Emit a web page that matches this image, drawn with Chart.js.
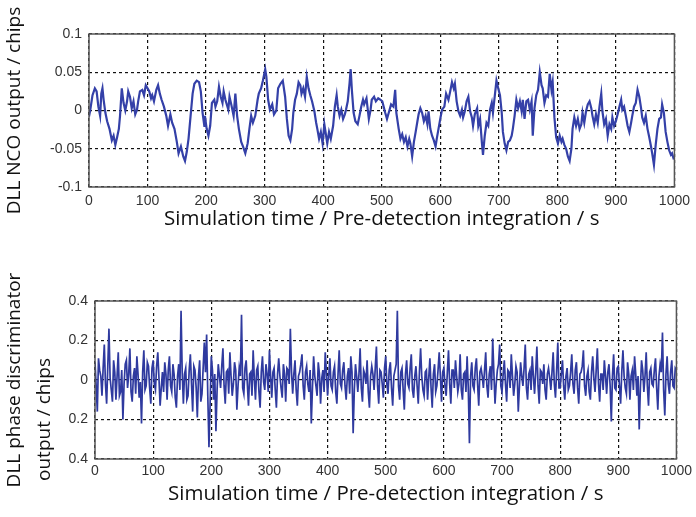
<!DOCTYPE html>
<html>
<head>
<meta charset="utf-8">
<script src="https://cdn.jsdelivr.net/npm/chart.js@4.4.0/dist/chart.umd.min.js"></script>
<style>
  html, body { margin: 0; padding: 0; background: #fff; }
  #wrap { position: relative; width: 696px; height: 517px; overflow: hidden; }
  .panel { position: absolute; left: 0; width: 696px; }
  #top { top: 0; height: 245px; }
  #bottom { top: 255px; height: 262px; }
</style>
</head>
<body>
<div id="wrap">
  <div class="panel" id="top"><canvas id="ncoChart" width="696" height="245"></canvas></div>
  <div class="panel" id="bottom"><canvas id="discChart" width="696" height="262"></canvas></div>
</div>
<script>
// ---- data ----
const xTitle = 'Simulation time / Pre-detection integration / s';
const timeTicks = [0, 100, 200, 300, 400, 500, 600, 700, 800, 900, 1000];
const timeTickLabels = ['0', '100', '200', '300', '400', '500', '600', '700', '800', '900', '1000'];

// top panel: DLL NCO output
const ncoTitle = 'DLL NCO output / chips';
const ncoTicks = [-0.1, -0.05, 0, 0.05, 0.1];
const ncoTickLabels = ['-0.1', '-0.05', '0', '0.05', '0.1'];
const ncoTime = [
  0, 2, 6, 10, 13, 16, 19, 21, 23, 25, 28, 31, 35, 39, 42, 45, 48, 51, 53, 56,
  59, 62, 65, 67, 70, 73, 76, 79, 82, 84, 87, 91, 94, 97, 100, 103, 106, 108, 111, 115,
  118, 121, 124, 128, 132, 135, 139, 142, 146, 150, 153, 157, 161, 164, 167, 170, 174, 177, 180, 184,
  188, 191, 194, 197, 198, 201, 204, 207, 210, 214, 216, 219, 222, 225, 228, 230, 233, 238, 240, 243,
  247, 250, 253, 256, 260, 263, 267, 271, 274, 277, 280, 284, 288, 290, 294, 297, 301, 303, 306, 309,
  313, 316, 320, 323,
  327, 331, 335, 338, 341, 344, 347, 349, 352, 355, 358, 361, 363, 366, 369, 372, 375, 378, 381, 385,
  388, 390, 393, 396, 399, 402, 405, 407, 410, 413, 417, 420, 423, 425, 428, 431, 434, 437, 439, 442,
  445, 447, 449, 452, 455, 459, 462, 465, 468, 470, 474, 478, 481, 483, 487, 490, 494, 498, 501, 506,
  509, 512, 516, 520, 523, 525, 529, 532, 535, 538, 541, 544, 547, 549, 552, 555, 558, 561, 563, 566,
  569, 572, 575, 578, 580, 583, 586, 589, 592, 594, 597, 600, 603, 607, 610, 614, 617, 620, 623, 625,
  628, 631, 634, 637, 639, 642, 645, 648, 651, 654, 656, 659, 663,
  665, 668, 671, 673, 676, 679, 682, 685, 688, 690, 693, 696, 699, 702, 705, 707, 710, 713, 716, 719,
  722, 724, 727, 730, 733, 736, 739, 741, 744, 747, 750, 753, 756, 758, 761, 764, 767, 770, 773, 775,
  778, 781, 784, 787, 790, 792, 795, 798, 801, 804, 807, 809, 812, 815, 818, 821, 824, 826, 829, 832,
  835, 838, 841, 843, 846, 849, 852, 855, 858, 860, 863, 866, 869, 872, 875, 877, 880, 883, 886, 889,
  892, 894, 897, 900, 903, 906, 909, 911, 914, 917, 920, 923, 926, 928, 931, 934, 937, 940, 943, 945,
  948, 951, 954, 957, 960, 962, 965, 968, 971, 974, 977, 979, 982, 985, 988, 991, 994, 996, 999
];
const ncoValue = [
  -0.008, 0.0, 0.02, 0.029, 0.025, 0.005, -0.007, 0.022, 0.029, 0.014, -0.003, -0.014, -0.024, -0.039, -0.033, -0.045, -0.035, -0.024, -0.007, 0.029,
  0.01, 0.0, 0.012, 0.025, 0.018, 0.003, 0.012, -0.005, 0.001, 0.012, 0.025, 0.027, 0.02, 0.033, 0.029, 0.025, 0.016, 0.02, 0.012, 0.027,
  0.033, 0.022, 0.014, 0.005, -0.007, -0.02, -0.005, -0.016, -0.024, -0.041, -0.056, -0.047, -0.06, -0.066, -0.054, -0.037, -0.003, 0.022, 0.035, 0.039,
  0.037, 0.025, -0.003, -0.02, -0.007, -0.024, -0.033, -0.02, 0.01, 0.014, 0.005, 0.012, 0.031, 0.018, 0.01, 0.025, 0.014, 0.001, 0.018, 0.008,
  -0.007, 0.022, -0.007, -0.024, -0.041, -0.047, -0.056, -0.043, -0.024, -0.007, -0.016, -0.007, 0.014, 0.022, 0.029, 0.039, 0.054, 0.044, 0.014, 0.001,
  0.008, -0.005, 0.0, 0.029,
  0.035, 0.039, 0.018, -0.011, -0.033, -0.039, -0.024, -0.003, 0.014, 0.022, 0.037, 0.033, 0.022, 0.029, 0.018, 0.044, 0.029, 0.02, 0.012, -0.001,
  -0.016, -0.024, -0.037, -0.028, -0.043, -0.018, -0.033, -0.043, -0.028, -0.037, -0.02, 0.005, 0.02, 0.005, -0.007, 0.001, -0.011, -0.005, 0.001, 0.012,
  0.035, 0.054, 0.027, -0.003, -0.014, -0.018, -0.007, 0.005, 0.014, 0.008, 0.016, -0.011, 0.001, 0.014, 0.018, 0.012, 0.016, 0.014, 0.012, -0.003,
  -0.011, -0.003, 0.008, 0.005, 0.027, -0.003, -0.024, -0.037, -0.031, -0.041, -0.035, -0.047, -0.037, -0.043, -0.06, -0.041, -0.028, -0.014, -0.005, 0.003,
  -0.003, -0.014, -0.007, -0.018, -0.001, -0.024, -0.033, -0.039, -0.047, -0.037, -0.024, -0.011, 0.001, 0.005, 0.022, 0.014, 0.025, 0.037, 0.029, 0.035,
  0.012, -0.001, -0.007, 0.001, -0.009, -0.001, 0.012, 0.018, -0.001, -0.009, -0.02, -0.005, 0.003,
  -0.02, -0.011, -0.041, -0.058, -0.033, -0.016, -0.02, 0.001, 0.01, -0.003, 0.018, 0.039, 0.029, 0.02, -0.003, -0.028, -0.043, -0.052, -0.041, -0.039,
  -0.033, -0.024, -0.007, 0.014, 0.003, 0.012, -0.001, 0.014, -0.011, 0.012, 0.014, 0.001, 0.012, -0.033, 0.003, 0.02, 0.027, 0.05, 0.033, 0.029,
  0.01, 0.02, 0.018, 0.048, 0.027, 0.037, -0.009, -0.035, -0.043, -0.033, -0.041, -0.037, -0.045, -0.05, -0.06, -0.066, -0.05, -0.024, -0.009, -0.02,
  -0.011, -0.024, -0.018, -0.003, -0.016, -0.001, 0.008, 0.012, 0.003, -0.007, -0.018, -0.005, -0.016, 0.005, 0.022, -0.001, -0.018, -0.011, -0.033, -0.018,
  -0.024, -0.009, -0.02, -0.014, -0.005, 0.005, 0.014, 0.001, 0.005, -0.007, -0.02, -0.028, -0.016, -0.007, 0.005, 0.01, 0.027, 0.018, 0.003, -0.009,
  -0.016, -0.007, -0.024, -0.035, -0.047, -0.056, -0.071, -0.045, -0.024, -0.011, -0.009, 0.008, -0.003, -0.028, -0.041, -0.052, -0.058, -0.056, -0.064
];

// bottom panel: DLL phase discriminator output, one value every 2 s
// (the second title line keeps trailing spaces so it sits lower, as in the figure)
const discTitle = ['DLL phase discriminator', 'output / chips                '];
const discTicks = [-0.4, -0.2, 0, 0.2, 0.4];
const discTickLabels = ['0.4', '0.2', '0', '0.2', '0.4'];
const discStep = 2;
const discValue = [
  // 0 - 98
  0.09, -0.03, -0.16, 0.11, 0.05, 0.02, -0.08, 0.06, 0.18, -0.02, -0.12, 0.07, 0.26, 0.01, -0.05, -0.11, 0.1, 0.04, -0.1, 0.02,
  0.14, -0.08, -0.06, 0.05, -0.2, -0.02, 0.08, 0.1, -0.04, 0.03, 0.16, -0.06, -0.11, 0.02, 0.06, -0.07, 0.12, 0.03, -0.09, -0.01,
  -0.22, 0.04, 0.15, -0.05, -0.03, 0.09, 0.07, -0.04, -0.12, 0.06,
  // 100 - 198
  0.1, -0.02, -0.05, 0.07, 0.14, 0.01, -0.13, -0.04, 0.04, -0.06, 0.09, 0.03, -0.1, 0.05, 0.12, -0.03, -0.06, 0.08, 0.03, -0.09,
  -0.14, 0.02, 0.08, -0.05, 0.35, 0.04, -0.12, 0.03, 0.06, -0.1, -0.08, 0.05, 0.13, -0.02, -0.16, 0.07, 0.05, -0.04, -0.19, 0.02,
  0.1, -0.11, -0.07, 0.06, 0.19, 0.04, 0.23, -0.08, -0.34, -0.12,
  // 200 - 298
  0.12, 0.05, -0.1, 0.03, -0.26, -0.05, 0.08, 0.02, -0.04, 0.07, 0.16, -0.03, -0.12, 0.04, 0.05, -0.07, 0.14, 0.02, -0.08, -0.02,
  0.09, 0.05, -0.15, -0.03, 0.06, 0.02, 0.33, -0.04, -0.07, 0.06, 0.1, -0.02, -0.13, 0.03, 0.04, -0.08, 0.15, 0.01, -0.1, 0.05,
  0.07, -0.06, -0.14, 0.04, 0.12, -0.01, -0.05, 0.08, 0.03, -0.06,
  // 300 - 398
  0.15, 0.02, -0.09, 0.04, 0.06, -0.05, -0.14, 0.03, 0.11, 0.02, -0.04, -0.09, 0.08, 0.03, -0.11, 0.06, 0.05, -0.02, 0.26, 0.04,
  -0.07, 0.03, 0.1, -0.05, -0.13, 0.02, 0.04, 0.08, 0.13, -0.03, -0.1, 0.04, 0.07, -0.02, -0.06, 0.05, -0.22, -0.04, 0.12, 0.02,
  -0.03, -0.08, 0.09, 0.03, -0.12, 0.01, 0.05, -0.06, 0.14, 0.04,
  // 400 - 498
  -0.08, 0.02, 0.11, -0.03, -0.05, 0.04, 0.07, -0.06, -0.12, 0.03, 0.15, -0.02, -0.04, 0.05, 0.09, -0.03, -0.1, 0.02, 0.06, -0.07,
  0.12, 0.04, -0.27, -0.05, 0.08, 0.02, -0.06, 0.03, 0.16, -0.04, -0.11, 0.05, 0.03, -0.02, 0.1, -0.06, -0.14, 0.02, 0.07, 0.03,
  -0.05, 0.06, 0.17, -0.03, -0.12, 0.05, 0.04, -0.02, -0.09, 0.06,
  // 500 - 598
  0.12, -0.02, -0.07, 0.05, 0.09, -0.04, -0.13, 0.02, 0.05, 0.08, 0.35, -0.03, -0.1, 0.04, 0.06, -0.05, -0.15, 0.03, 0.1, -0.02,
  -0.04, 0.06, 0.13, -0.05, -0.09, 0.02, 0.07, -0.03, -0.12, 0.04, 0.16, 0.02, -0.05, -0.08, 0.04, 0.05, -0.1, 0.01, 0.11, -0.04,
  -0.14, 0.03, 0.08, -0.06, -0.03, 0.05, 0.14, 0.02, -0.11, 0.04,
  // 600 - 698
  0.06, -0.03, -0.08, 0.04, 0.15, -0.02, -0.12, 0.05, 0.05, -0.04, 0.1, 0.02, -0.06, -0.02, 0.13, -0.05, -0.1, 0.03, 0.04, -0.06,
  0.12, -0.04, -0.32, 0.02, 0.09, -0.03, -0.05, 0.06, 0.11, -0.02, -0.13, 0.04, 0.06, 0.02, -0.04, 0.05, 0.14, -0.03, -0.09, 0.03,
  0.07, -0.05, 0.21, 0.04, -0.12, -0.02, 0.05, 0.08, 0.18, -0.03,
  // 700 - 798
  -0.06, 0.03, 0.1, -0.02, -0.11, 0.05, 0.04, -0.04, 0.13, 0.02, -0.08, -0.02, 0.07, 0.04, -0.16, -0.03, 0.09, 0.02, -0.03, 0.06,
  0.18, -0.04, -0.1, 0.03, 0.05, -0.05, 0.12, 0.02, -0.07, 0.04, 0.17, -0.03, -0.12, 0.05, 0.04, -0.02, 0.08, -0.05, -0.1, 0.03,
  0.06, 0.01, -0.05, 0.04, 0.14, -0.02, -0.09, 0.05, 0.19, -0.04,
  // 800 - 898
  -0.04, 0.03, 0.1, -0.03, -0.1, 0.02, 0.06, -0.05, -0.03, 0.04, 0.13, -0.02, -0.07, 0.05, 0.09, -0.04, -0.12, 0.03, 0.04, 0.07,
  0.15, -0.03, -0.08, 0.02, 0.05, -0.06, -0.1, 0.04, 0.12, 0.01, -0.06, 0.05, 0.16, -0.02, -0.11, 0.03, 0.03, -0.05, 0.1, 0.02,
  -0.07, 0.04, 0.08, -0.03, -0.21, 0.02, 0.13, -0.04, -0.05, 0.06,
  // 900 - 1000
  0.07, -0.03, -0.12, 0.04, 0.15, 0.02, -0.04, -0.07, 0.09, 0.03, -0.1, 0.02, 0.05, -0.05, 0.12, 0.03, -0.08, 0.02, -0.25, -0.04,
  0.1, 0.05, -0.06, 0.02, 0.14, -0.03, -0.13, 0.04, 0.06, -0.02, -0.03, 0.05, 0.11, -0.04, -0.15, 0.02, 0.08, 0.04, 0.24, -0.05,
  -0.18, 0.03, 0.12, -0.02, -0.07, 0.04, 0.1, -0.03, -0.04, 0.06, 0.05
];

// ---- styling ----
const lineColor = '#3440a8';
const gridColor = '#111';
const tickFont = { family: '"Liberation Sans", Arial, sans-serif', size: 14 };
const xTitleFont = { family: '"Open Sans", sans-serif', size: 20.5 };

const framePlugin = {
  id: 'frame',
  afterDatasetsDraw(chart) {
    const { ctx, chartArea: a } = chart;
    ctx.save();
    ctx.strokeStyle = '#555';
    ctx.lineWidth = 1.5;
    ctx.strokeRect(a.left, a.top, a.right - a.left, a.bottom - a.top);
    ctx.restore();
  }
};

function timeAxis(tickPad, titlePad) {
  return {
    type: 'linear',
    min: 0,
    max: 1000,
    afterBuildTicks: s => { s.ticks = timeTicks.map(v => ({ value: v })); },
    afterFit: s => { s.height = 58; },
    ticks: {
      autoSkip: false,
      maxRotation: 0,
      padding: tickPad,
      color: '#333',
      font: tickFont,
      callback: (v, i) => timeTickLabels[i]
    },
    grid: { color: gridColor, lineWidth: 1.2, drawTicks: false },
    border: { display: false, dash: [3, 3] },
    title: {
      display: true,
      text: xTitle,
      color: '#111',
      font: xTitleFont,
      padding: { top: 0, bottom: titlePad }
    }
  };
}

function valueAxis(ticks, labels, title, width, font, titlePad) {
  return {
    type: 'linear',
    min: ticks[0],
    max: ticks[ticks.length - 1],
    afterBuildTicks: s => { s.ticks = ticks.map(v => ({ value: v })); },
    afterFit: s => { s.width = width; },
    ticks: {
      padding: 7,
      color: '#333',
      font: tickFont,
      callback: (v, i) => labels[i]
    },
    grid: { color: gridColor, lineWidth: 1.2, drawTicks: false },
    border: { display: false, dash: [3, 3] },
    title: {
      display: true,
      text: title,
      color: '#111',
      font: font,
      padding: { top: titlePad, bottom: 0 }
    }
  };
}

function makeChart(id, points, width, color, yAxis, xAxis, padding) {
  return new Chart(document.getElementById(id), {
    type: 'line',
    data: {
      datasets: [{
        data: points,
        borderColor: color,
        borderWidth: width,
        pointRadius: 0,
        tension: 0,
        fill: false
      }]
    },
    options: {
      responsive: false,
      animation: false,
      events: [],
      layout: { padding: padding },
      scales: { x: xAxis, y: yAxis },
      plugins: { legend: { display: false }, tooltip: { enabled: false } }
    },
    plugins: [framePlugin]
  });
}

const ncoPoints = ncoTime.map((t, i) => ({ x: t, y: ncoValue[i] }));
const discPoints = discValue.map((v, i) => ({ x: i * discStep, y: v }));

makeChart('ncoChart', ncoPoints, 2.2, lineColor,
  valueAxis(ncoTicks, ncoTickLabels, ncoTitle, 89,
    { family: '"Open Sans", sans-serif', size: 19 }, 3.5),
  timeAxis(6, 14),
  { top: 34, right: 20, left: 0, bottom: 0 });

makeChart('discChart', discPoints, 1.7, '#2f3a9f',
  valueAxis(discTicks, discTickLabels, discTitle, 95,
    { family: '"Open Sans", sans-serif', size: 19, lineHeight: 1.53 }, 0.5),
  timeAxis(4, 11),
  { top: 46, right: 19, left: 0, bottom: 0 });
</script>
</body>
</html>
